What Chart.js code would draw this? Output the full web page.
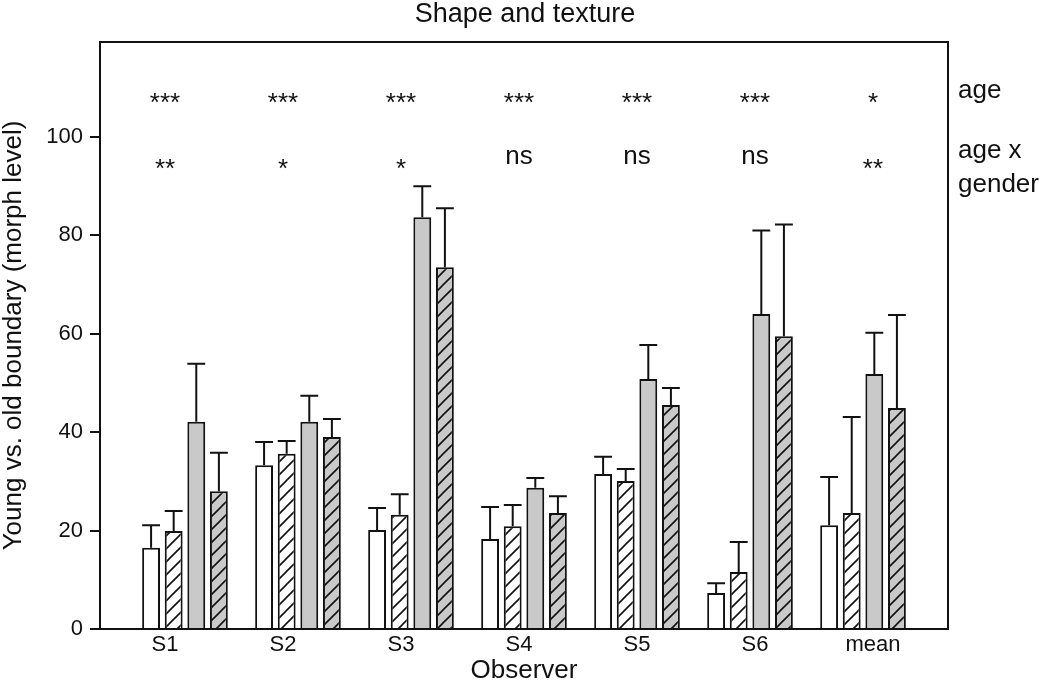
<!DOCTYPE html>
<html><head><meta charset="utf-8">
<script src="https://cdn.jsdelivr.net/npm/chart.js@4.4.1/dist/chart.umd.min.js"></script>
<style>html,body{margin:0;padding:0;background:#fff;}#wrap{width:1050px;height:684px;position:relative;}</style>
</head><body><div id="wrap"><canvas id="c"></canvas></div>
<script>
// ---- data ----
const categories = ['S1', 'S2', 'S3', 'S4', 'S5', 'S6', 'mean'];
const seriesWhite        = [16.5, 33.3, 20.1, 18.3, 31.5, 7.3, 21.1];
const seriesWhiteErr     = [4.6, 4.7, 4.5, 6.5, 3.5, 2.0, 9.8];
const seriesHatched      = [19.9, 35.6, 23.2, 20.9, 30.1, 11.6, 23.6];
const seriesHatchedErr   = [4.1, 2.6, 4.2, 4.3, 2.4, 6.1, 19.5];
const seriesGrey         = [42.1, 42.1, 83.7, 28.7, 50.8, 64.0, 51.8];
const seriesGreyErr      = [11.8, 5.3, 6.3, 2.0, 6.9, 17.0, 8.4];
const seriesGreyHatched  = [28.0, 39.0, 73.5, 23.6, 45.5, 59.5, 44.9];
const seriesGreyHatchedErr = [7.8, 3.7, 12.0, 3.4, 3.5, 22.7, 18.9];
const ageSig       = ['***', '***', '***', '***', '***', '***', '*'];
const ageGenderSig = ['**', '*', '*', 'ns', 'ns', 'ns', '**'];
const rowLabelAge = ['age'];
const rowLabelAgeGender = ['age x', 'gender'];
const chartTitle = 'Shape and texture';
const yTickStep = 20;

// ---- styles ----
const FONT = "'Liberation Sans', Arial, Helvetica, sans-serif";
const INK = '#111';
const GREY = '#c9c9c9';
Chart.defaults.font.family = FONT;
Chart.defaults.color = INK;

function hatch(bg) {
  const s = 13;
  const c = document.createElement('canvas');
  c.width = s; c.height = s;
  const g = c.getContext('2d');
  g.fillStyle = bg; g.fillRect(0, 0, s, s);
  g.strokeStyle = INK; g.lineWidth = 1.6;
  g.beginPath();
  g.moveTo(-2, s + 2); g.lineTo(s + 2, -2);
  g.moveTo(-2, 2); g.lineTo(2, -2);
  g.moveTo(s - 2, s + 2); g.lineTo(s + 2, s - 2);
  g.stroke();
  return g.createPattern(c, 'repeat');
}

const toPts = arr => arr.map((v, i) => ({ x: i + 1, y: v }));
function ds(label, values, errs, fill) {
  return {
    label, data: toPts(values), errorValues: errs, xAxisID: 'xb', yAxisID: 'y',
    backgroundColor: fill, borderColor: INK, borderWidth: 2,
    categoryPercentage: 0.8, barPercentage: 0.79
  };
}

const errorBars = {
  id: 'errorBars',
  afterDatasetsDraw(chart) {
    const ctx = chart.ctx, ys = chart.scales.y;
    ctx.save();
    ctx.strokeStyle = INK; ctx.lineWidth = 2;
    chart.data.datasets.forEach((d, di) => {
      const meta = chart.getDatasetMeta(di);
      meta.data.forEach((bar, i) => {
        const p = bar.getProps(['x', 'y', 'width'], true);
        const top = ys.getPixelForValue(d.data[i].y + d.errorValues[i]);
        ctx.beginPath();
        ctx.moveTo(p.x, p.y); ctx.lineTo(p.x, top);
        ctx.moveTo(p.x - p.width / 2, top); ctx.lineTo(p.x + p.width / 2, top);
        ctx.stroke();
      });
    });
    ctx.restore();
  }
};

const frameAndText = {
  id: 'frameAndText',
  afterDraw(chart) {
    const ctx = chart.ctx, a = chart.chartArea;
    const xs = chart.scales.x, ys = chart.scales.y;
    ctx.save();
    ctx.strokeStyle = INK; ctx.lineWidth = 2;
    ctx.strokeRect(a.left, a.top, a.right - a.left, a.bottom - a.top);
    ctx.fillStyle = INK;
    // title
    ctx.font = '27px ' + FONT;
    ctx.textAlign = 'center';
    ctx.textBaseline = 'alphabetic';
    ctx.fillText(chartTitle, (a.left + a.right) / 2 + 1, a.top - 20);
    ctx.font = '26px ' + FONT;
    const drawSig = (txt, x, y) => {
      if (/^\*+$/.test(txt)) {
        const m = ctx.measureText(txt);
        const off = (m.actualBoundingBoxAscent - m.actualBoundingBoxDescent) / 2;
        ctx.fillText(txt, x, y + off);
      } else {
        ctx.fillText(txt, x, y);
      }
    };
    const row1 = ys.getPixelForValue(107.9);
    const row2 = ys.getPixelForValue(94.6);
    categories.forEach((c, i) => {
      const x = xs.getPixelForValue(i + 1);
      drawSig(ageSig[i], x, row1);
      drawSig(ageGenderSig[i], x, row2);
    });
    ctx.textAlign = 'left';
    const lx = a.right + 10;
    ctx.fillText(rowLabelAge[0], lx, row1);
    ctx.fillText(rowLabelAgeGender[0], lx, row2 - 5.5);
    ctx.fillText(rowLabelAgeGender[1], lx, row2 + 28.5);
    ctx.restore();
  }
};

const intTicks = s => { s.ticks = categories.map((c, i) => ({ value: i + 1 })); };

new Chart(document.getElementById('c'), {
  type: 'bar',
  data: {
    labels: categories,
    datasets: [
      ds('white', seriesWhite, seriesWhiteErr, '#ffffff'),
      ds('white hatched', seriesHatched, seriesHatchedErr, hatch('#ffffff')),
      ds('grey', seriesGrey, seriesGreyErr, GREY),
      ds('grey hatched', seriesGreyHatched, seriesGreyHatchedErr, hatch(GREY))
    ]
  },
  options: {
    responsive: true, maintainAspectRatio: false, animation: false,
    layout: { padding: { left: 0, right: 102, top: 42, bottom: 0 } },
    plugins: {
      legend: { display: false }, tooltip: { enabled: false }, title: { display: false }
    },
    scales: {
      xb: {
        type: 'linear', display: false, min: 0.248, max: 7.752, offset: false,
        grid: { display: false, offset: false },
        afterBuildTicks: intTicks
      },
      x: {
        type: 'linear', position: 'bottom', min: 0.449, max: 7.636, offset: false,
        grid: { display: false, drawTicks: false, offset: false },
        border: { display: false },
        afterBuildTicks: intTicks,
        afterFit: s => { s.height = 55; },
        ticks: {
          autoSkip: false, maxRotation: 0, padding: 5,
          font: { size: 22, lineHeight: 1 }, color: INK,
          callback: v => categories[Math.round(v) - 1]
        },
        title: { display: true, text: 'Observer', color: INK,
          font: { size: 26, lineHeight: 1 }, padding: { top: 0, bottom: 0 } }
      },
      y: {
        type: 'linear', position: 'left', min: 0, max: 119.3,
        grid: { display: true, drawOnChartArea: false, drawTicks: true, tickLength: 10, color: INK, lineWidth: 2 },
        border: { display: true, color: INK, width: 2 },
        afterFit: s => { s.width = 100; },
        ticks: { stepSize: yTickStep, includeBounds: false, padding: 7,
          font: { size: 22 }, color: INK },
        title: { display: true, text: 'Young vs. old boundary (morph level)', color: INK,
          font: { size: 26, lineHeight: 1 }, padding: { top: 1, bottom: 0 } }
      }
    }
  },
  plugins: [errorBars, frameAndText]
});
</script>
</body></html>
